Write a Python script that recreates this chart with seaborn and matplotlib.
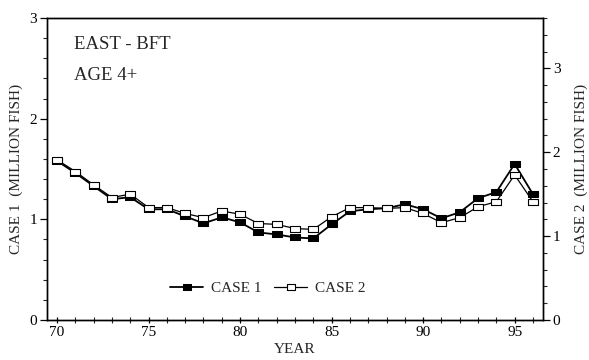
import numpy as np
import pandas as pd
import matplotlib
matplotlib.use("Agg")
import matplotlib.pyplot as plt
from matplotlib.ticker import MultipleLocator
import seaborn as sns

years = list(range(1970, 1997))
case1 = [1.58, 1.46, 1.33, 1.20, 1.22, 1.10, 1.10, 1.03, 0.96, 1.02,
         0.97, 0.87, 0.85, 0.82, 0.81, 0.95, 1.08, 1.10, 1.11, 1.15,
         1.10, 1.01, 1.07, 1.21, 1.27, 1.55, 1.25]
case2 = [1.91, 1.77, 1.61, 1.46, 1.50, 1.34, 1.34, 1.27, 1.22, 1.30,
         1.26, 1.15, 1.14, 1.09, 1.08, 1.23, 1.34, 1.34, 1.33, 1.34,
         1.27, 1.16, 1.22, 1.35, 1.41, 1.73, 1.41]
year_labels = ["70", "75", "80", "85", "90", "95"]

yr = [y - 1900 for y in years]
df1 = pd.DataFrame({"year": yr, "value": case1})
df2 = pd.DataFrame({"year": yr, "value": case2})

sns.set_style("ticks")
serif = ["Liberation Serif", "DejaVu Serif"]
plt.rcParams["font.family"] = serif

# flat rectangular box marker
box = [(-1.0, -0.7), (1.0, -0.7), (1.0, 0.7), (-1.0, 0.7), (-1.0, -0.7)]

fig = plt.figure(figsize=(5.89, 3.60), dpi=100)
ax = fig.add_axes([47 / 589, 40 / 360, (543 - 47) / 589, (320 - 18) / 360])
ax2 = ax.twinx()

sns.lineplot(data=df1, x="year", y="value", ax=ax, color="black",
             marker=box, markersize=7, markerfacecolor="black",
             markeredgecolor="black", linewidth=1.3, label="CASE 1",
             legend=False)
sns.lineplot(data=df2, x="year", y="value", ax=ax2, color="black",
             marker=box, markersize=7, markerfacecolor="white",
             markeredgecolor="black", markeredgewidth=0.8, linewidth=0.9,
             label="CASE 2", legend=False)

ax.set_xlim(69.45, 96.55)
ax.set_ylim(0, 3)
ax2.set_ylim(0, 3.6)

ax.set_xticks([70, 75, 80, 85, 90, 95])
ax.set_xticklabels(year_labels)
ax.xaxis.set_minor_locator(MultipleLocator(1))
ax.yaxis.set_major_locator(MultipleLocator(1))
ax.yaxis.set_minor_locator(MultipleLocator(0.2))
ax2.yaxis.set_major_locator(MultipleLocator(1))
ax2.yaxis.set_minor_locator(MultipleLocator(0.2))

for a in (ax, ax2):
    for s in a.spines.values():
        s.set_linewidth(1.0)
        s.set_color("black")
    a.tick_params(which="major", length=5, width=0.9, labelsize=11,
                  colors="black", pad=2)
    a.tick_params(which="minor", length=3, width=0.8)
ax.tick_params(axis="x", which="both", direction="inout")
ax.tick_params(axis="x", which="major", length=5)
ax.tick_params(axis="x", which="minor", length=4)

ax.set_xlabel("YEAR", fontsize=11, labelpad=3)
ax.set_ylabel("CASE 1  (MILLION FISH)", fontsize=11, labelpad=5)
ax2.set_ylabel("CASE 2  (MILLION FISH)", fontsize=11, labelpad=10)

ax.text(70.9, 2.74, "EAST - BFT", fontsize=13.5, va="center", ha="left")
ax.text(70.9, 2.43, "AGE 4+", fontsize=13.5, va="center", ha="left")

h1, l1 = ax.get_legend_handles_labels()
h2, l2 = ax2.get_legend_handles_labels()
ax.legend(h1 + h2, l1 + l2, ncol=2, frameon=False, fontsize=11,
          loc="center", bbox_to_anchor=(0.445, 0.105), handlelength=2.2,
          columnspacing=0.8, handletextpad=0.5, markerscale=0.9)

fig.savefig("out.png", dpi=100)
